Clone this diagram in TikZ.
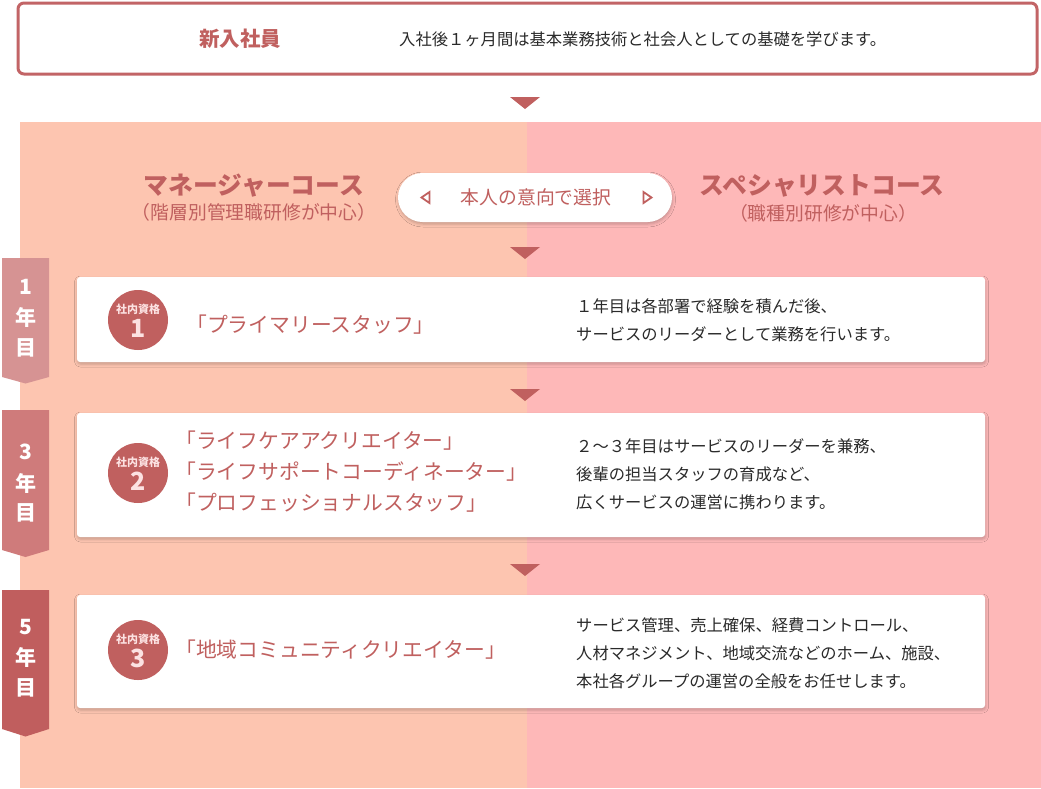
\documentclass[tikz,border=0pt]{standalone}
\usepackage{fontspec}
\setmainfont{Noto Sans CJK JP}
\usetikzlibrary{shadows.blur}
\definecolor{rose}{HTML}{C0605F}
\definecolor{roseborder}{HTML}{C26466}
\definecolor{peachbg}{HTML}{FDC5B0}
\definecolor{pinkbg}{HTML}{FEB8B8}
\definecolor{ribbonA}{HTML}{D69393}
\definecolor{ribbonB}{HTML}{CF7B7B}
\definecolor{ribbonC}{HTML}{C05E5E}
\definecolor{lightnum}{HTML}{FCE2E2}
\definecolor{bodytext}{HTML}{2A2A2A}
\tikzset{
  softshadow/.style={blur shadow={shadow xshift=0.5pt, shadow yshift=-2pt, shadow blur radius=3pt, shadow opacity=22}},
  cardbox/.style={fill=white, rounded corners=3pt, softshadow},
  rankcircle/.style={circle, fill=rose, minimum size=60pt, inner sep=0pt},
  ranklabel/.style={text=lightnum, font=\bfseries\fontsize{11}{11}\selectfont, inner sep=0pt},
  ranknum/.style={text=lightnum, font=\bfseries\fontsize{25}{25}\selectfont, inner sep=0pt},
  titletext/.style={text=rose, font=\fontsize{20.8}{31}\selectfont, align=left, anchor=west, inner sep=0pt},
  desctext/.style={text=bodytext, font=\fontsize{16.3}{28}\selectfont, align=left, anchor=west, inner sep=0pt},
  yeartext/.style={text=white, font=\bfseries\fontsize{21}{21}\selectfont, inner sep=0pt},
  downtri/.pic={\fill[rose] (-15,-6) -- (15,-6) -- (0,6) -- cycle;},
}
\begin{document}
\begin{tikzpicture}[x=1pt,y=-1pt]
\useasboundingbox (0,0) rectangle (1041,788);
% backgrounds
\fill[peachbg] (20,122) rectangle (527,788);
\fill[pinkbg] (527,122) rectangle (1041,788);
% top box
\draw[roseborder, line width=3pt, fill=white, rounded corners=6pt] (18,3) rectangle (1037,74);
\node[text=rose, font=\bfseries\fontsize{20.5}{20.5}\selectfont, inner sep=0pt] (newhire) at (240,39) {新入社員};
\node[text=bodytext, font=\fontsize{16.3}{16.3}\selectfont, anchor=west, inner sep=0pt] (newhiredesc) at (399,39) {入社後１ヶ月間は基本業務技術と社会人としての基礎を学びます。};
\pic at (525,103) {downtri};
% courses
\node[text=rose, font=\bfseries\fontsize{24.8}{24.8}\selectfont, inner sep=0pt] (mgr) at (254,186) {マネージャーコース};
\node[text=rose, font=\fontsize{18.8}{18.8}\selectfont, inner sep=0pt] (mgrsub) at (254,212) {（階層別管理職研修が中心）};
\node[text=rose, font=\bfseries\fontsize{24.8}{24.8}\selectfont, inner sep=0pt] (spc) at (822,186) {スペシャリストコース};
\node[text=rose, font=\fontsize{18.8}{18.8}\selectfont, inner sep=0pt] (spcsub) at (823,213) {（職種別研修が中心）};
% pill
\node[fill=white, rounded corners=24.5pt, minimum width=274pt, minimum height=49pt, softshadow] (pill) at (535,197.5) {};
\node[text=rose, font=\fontsize{18.8}{18.8}\selectfont, inner sep=0pt] (choice) at (536,197) {本人の意向で選択};
\draw[rose, line width=1.8pt, line join=miter] (429.5,192) -- (421.5,197.5) -- (429.5,203) -- cycle;
\draw[rose, line width=1.8pt, line join=miter] (643.5,192) -- (651.5,197.5) -- (643.5,203) -- cycle;
\pic at (525,253) {downtri};
% cards
\fill[cardbox] (77,277) rectangle (985,362);
\fill[cardbox] (77,413) rectangle (985,537);
\fill[cardbox] (77,595) rectangle (985,708);
\pic at (525,395) {downtri};
\pic at (525,570) {downtri};
% rank circles
\node[rankcircle] (r1) at (138,320) {};
\node[ranklabel] (r1a) at (138,309.5) {社内資格};
\node[ranknum] (r1b) at (138,328.5) {1};
\node[rankcircle] (r2) at (138,473) {};
\node[ranklabel] (r2a) at (138,462.5) {社内資格};
\node[ranknum] (r2b) at (138,481.5) {2};
\node[rankcircle] (r3) at (138,650) {};
\node[ranklabel] (r3a) at (138,639.5) {社内資格};
\node[ranknum] (r3b) at (138,658.5) {3};
% titles
\node[titletext] (t1) at (186,325) {「プライマリースタッフ」};
\node[titletext] (t2) at (175,472) {「ライフケアアクリエイター」\\「ライフサポートコーディネーター」\\「プロフェッショナルスタッフ」};
\node[titletext] (t3) at (175,650) {「地域コミュニティクリエイター」};
% descriptions
\node[desctext] (d1) at (576,320) {１年目は各部署で経験を積んだ後、\\サービスのリーダーとして業務を行います。};
\node[desctext] (d2) at (576,474) {２～３年目はサービスのリーダーを兼務、\\後輩の担当スタッフの育成など、\\広くサービスの運営に携わります。};
\node[desctext] (d3) at (576,653) {サービス管理、売上確保、経費コントロール、\\人材マネジメント、地域交流などのホーム、施設、\\本社各グループの運営の全般をお任せします。};
% year ribbons
\fill[ribbonA] (2,258) -- (49,258) -- (49,377) -- (25.5,383.5) -- (2,377) -- cycle;
\fill[ribbonB] (2,410) -- (49,410) -- (49,550) -- (25.5,557) -- (2,550) -- cycle;
\fill[ribbonC] (2,590) -- (49,590) -- (49,729) -- (25.5,736.5) -- (2,729) -- cycle;
\node[yeartext] (y1a) at (25.5,287) {1};
\node[yeartext] (y1b) at (25.5,317) {年};
\node[yeartext] (y1c) at (25.5,348) {目};
\node[yeartext] (y3a) at (25.5,452) {3};
\node[yeartext] (y3b) at (25.5,483) {年};
\node[yeartext] (y3c) at (25.5,513) {目};
\node[yeartext] (y5a) at (25.5,627) {5};
\node[yeartext] (y5b) at (25.5,657) {年};
\node[yeartext] (y5c) at (25.5,688) {目};
\end{tikzpicture}
\end{document}
